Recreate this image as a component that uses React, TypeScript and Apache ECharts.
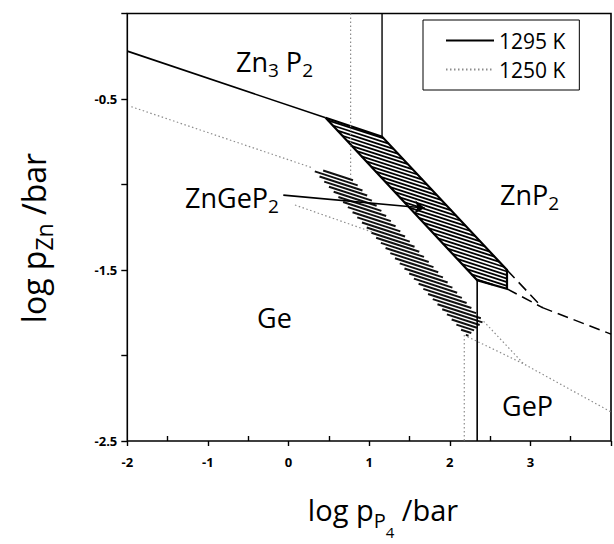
import React, { useEffect, useRef } from 'react';
import * as echarts from 'echarts';

// ---- axis ticks ----
const xTickLabels = [-2, -1, 0, 1, 2, 3];
const yTickLabels = [-0.5, -1.5, -2.5];

// ---- 1295 K ----
const line1295Zn3P2 = [[-2.0, -0.22], [0.46, -0.61]];
const band1295 = [[0.46, -0.61], [1.16, -0.72], [2.71, -1.5], [2.71, -1.61], [2.34, -1.56]];
const vert1295a = [[1.16, 0.0], [1.16, -0.72]];
const vert1295b = [[2.34, -1.56], [2.34, -2.5]];
const dash1295a = [[2.71, -1.5], [3.15, -1.72], [4.0, -1.875]];
const dash1295b = [[2.71, -1.61], [3.15, -1.72]];

// ---- 1250 K ----
const line1250Zn3P2 = [[-1.95, -0.545], [0.28, -0.9]];
const band1250 = [[0.28, -0.9], [0.77, -0.96], [2.42, -1.8], [2.22, -1.89]];
const vert1250a = [[0.77, 0.0], [0.77, -0.96]];
const vert1250b = [[2.18, -1.88], [2.18, -2.5]];
const dot1250a = [[2.42, -1.8], [2.92, -2.05], [4.0, -2.33]];
const dot1250b = [[2.22, -1.89], [2.92, -2.05]];

// ---- ZnGeP2 pointers ----
const pointer1295 = [[-0.065, -1.062], [1.69, -1.137]];
const pointer1250 = [[0.08, -1.12], [1.05, -1.28]];

const FONT = '"Open Sans", "DejaVu Sans", sans-serif';

function hatch(pts: number[][], angleDeg: number, spacing: number) {
  const a = (angleDeg * Math.PI) / 180;
  const d = [Math.cos(a), Math.sin(a)];
  const n = [-Math.sin(a), Math.cos(a)];
  const s = pts.map((p) => p[0] * n[0] + p[1] * n[1]);
  const smin = Math.min(...s);
  const smax = Math.max(...s);
  const segs: number[][][] = [];
  for (let v = smin + spacing / 2; v < smax; v += spacing) {
    const hits: number[][] = [];
    for (let i = 0; i < pts.length; i++) {
      const j = (i + 1) % pts.length;
      const si = s[i];
      const sj = s[j];
      if ((si - v) * (sj - v) < 0) {
        const t = (v - si) / (sj - si);
        hits.push([pts[i][0] + t * (pts[j][0] - pts[i][0]), pts[i][1] + t * (pts[j][1] - pts[i][1])]);
      }
    }
    hits.sort((p, q) => p[0] * d[0] + p[1] * d[1] - (q[0] * d[0] + q[1] * d[1]));
    for (let k = 0; k + 1 < hits.length; k += 2) segs.push([hits[k], hits[k + 1]]);
  }
  return segs;
}

function bandSeries(name: string, band: number[][], color: string, width: number, angle: number, spacing: number, outline: boolean) {
  return {
    type: 'custom',
    name,
    coordinateSystem: 'cartesian2d',
    xAxisIndex: 0,
    yAxisIndex: 0,
    silent: true,
    z: 1,
    data: [band[0]],
    renderItem: (_params: any, api: any) => {
      const pts = band.map((p) => api.coord(p));
      const children: any[] = hatch(pts, angle, spacing).map(([a, b]) => ({
        type: 'line',
        shape: { x1: a[0], y1: a[1], x2: b[0], y2: b[1] },
        style: { stroke: color, lineWidth: width },
      }));
      if (outline) {
        children.push({
          type: 'polygon',
          shape: { points: pts },
          style: { fill: 'none', stroke: '#000', lineWidth: 2.2, lineJoin: 'miter' },
        });
      }
      return { type: 'group', children };
    },
  };
}

function lineSeries(name: string, data: number[][], color: string, width: number, type: any) {
  return {
    type: 'line',
    name,
    xAxisIndex: 0,
    yAxisIndex: 0,
    data,
    symbol: 'none',
    silent: true,
    z: 3,
    color,
    itemStyle: { color },
    lineStyle: { color, width, type },
  };
}

const SOLID = '#000';
const GRAY = '#8c8c8c';
const DOT: number[] = [1.5, 2.5];

function regionText(text: string, x: number, y: number) {
  return {
    type: 'text',
    x,
    y,
    silent: true,
    style: {
      text,
      fill: '#000',
      fontSize: 27,
      fontFamily: FONT,
      lineHeight: 32,
      align: 'left',
      verticalAlign: 'middle',
      rich: {
        s: { fontSize: 19, fontFamily: FONT, fill: '#000', padding: [18, 0, 0, 0], lineHeight: 32 },
      },
    },
  };
}

export default function App() {
  const ref = useRef<HTMLDivElement>(null);
  useEffect(() => {
    if (!ref.current) return;
    const chart = echarts.init(ref.current, undefined, { renderer: 'svg' });
    const option: any = {
      animation: false,
      backgroundColor: '#fff',
      grid: {
        left: 127.3,
        top: 13.5,
        width: 489,
        height: 427.5,
        show: true,
        borderColor: '#000',
        borderWidth: 1.6,
        backgroundColor: 'transparent',
      },
      legend: {
        data: ['1295 K', '1250 K'],
        orient: 'vertical',
        left: 423,
        top: 20,
        padding: [6, 14, 6, 22],
        itemGap: 0,
        itemWidth: 48,
        itemHeight: 10,
        borderColor: '#000',
        borderWidth: 1,
        selectedMode: false,
        itemStyle: { opacity: 0 },
        textStyle: { fontSize: 21, fontFamily: FONT, color: '#000', lineHeight: 29 },
      },
      xAxis: [
        {
          type: 'value',
          position: 'bottom',
          min: -2,
          max: 4,
          interval: 1,
          axisLine: { show: false, onZero: false },
          axisTick: { show: true, inside: false, length: 5, lineStyle: { color: '#000', width: 1.4 } },
          splitLine: { show: false },
          axisLabel: {
            margin: 14,
            fontSize: 13,
            fontWeight: 'bold',
            fontFamily: FONT,
            color: '#000',
            formatter: (v: number) => (xTickLabels.some((t) => Math.abs(t - v) < 1e-6) ? String(v) : ''),
          },
        },
        {
          type: 'value',
          position: 'bottom',
          min: -2,
          max: 4,
          interval: 1,
          axisLine: { show: false, onZero: false },
          axisTick: { show: false, inside: true },
          minorTick: { show: true, splitNumber: 2, length: 5, lineStyle: { color: '#000', width: 1.4 } },
          splitLine: { show: false },
          minorSplitLine: { show: false },
          axisLabel: { show: false },
        },
      ],
      yAxis: [
        {
          type: 'value',
          min: -2.5,
          max: 0,
          interval: 0.5,
          axisLine: { show: false, onZero: false },
          axisTick: { show: true, inside: false, length: 6, lineStyle: { color: '#000', width: 1.4 } },
          splitLine: { show: false },
          axisLabel: {
            margin: 10,
            fontSize: 13,
            fontWeight: 'bold',
            fontFamily: FONT,
            color: '#000',
            padding: [5, 0, 0, 0],
            formatter: (v: number) => {
              const t = yTickLabels.find((q) => Math.abs(q - v) < 1e-6);
              return t === undefined ? '' : t.toFixed(1);
            },
          },
        },
      ],
      series: [
        bandSeries('1250 K band', band1250, '#111', 2.0, 18, 3.4, false),
        bandSeries('1295 K band', band1295, '#000', 1.8, 18, 3.4, true),
        lineSeries('1295 K', line1295Zn3P2, SOLID, 1.6, 'solid'),
        lineSeries('1295 K v1', vert1295a, SOLID, 1.4, 'solid'),
        lineSeries('1295 K v2', vert1295b, SOLID, 1.6, 'solid'),
        lineSeries('1295 K d1', dash1295a, SOLID, 1.5, [11, 6]),
        lineSeries('1295 K d2', dash1295b, SOLID, 1.5, [11, 6]),
        lineSeries('1250 K', line1250Zn3P2, GRAY, 1.2, DOT),
        lineSeries('1250 K v1', vert1250a, GRAY, 1.2, DOT),
        lineSeries('1250 K v2', vert1250b, GRAY, 1.2, DOT),
        lineSeries('1250 K d1', dot1250a, GRAY, 1.2, DOT),
        lineSeries('1250 K d2', dot1250b, GRAY, 1.2, DOT),
        lineSeries('1250 K pointer', pointer1250, GRAY, 1.2, DOT),
        {
          type: 'lines',
          name: '1295 K pointer',
          coordinateSystem: 'cartesian2d',
          xAxisIndex: 0,
          yAxisIndex: 0,
          silent: true,
          z: 4,
          symbol: ['none', 'arrow'],
          symbolSize: 10,
          lineStyle: { color: '#000', width: 1.6, opacity: 1, curveness: 0 },
          data: [{ coords: pointer1295 }],
        },
      ],
      graphic: [
        regionText('Zn{s|3} P{s|2}', 236, 61),
        regionText('ZnP{s|2}', 500, 194),
        regionText('ZnGeP{s|2}', 185, 197),
        regionText('Ge', 257, 317),
        regionText('GeP', 502, 405),
        {
          type: 'text',
          x: 383,
          y: 509,
          silent: true,
          style: {
            text: 'log p{a|P}{b|4} /bar',
            fill: '#000',
            fontSize: 29,
            fontFamily: FONT,
            lineHeight: 34,
            align: 'center',
            verticalAlign: 'middle',
            rich: {
              a: { fontSize: 20, fontFamily: FONT, fill: '#000', padding: [22, 0, 0, 0], lineHeight: 34 },
              b: { fontSize: 15, fontFamily: FONT, fill: '#000', padding: [46, 0, 0, 0], lineHeight: 34 },
            },
          },
        },
        {
          type: 'text',
          x: 33,
          y: 238,
          rotation: Math.PI / 2,
          silent: true,
          style: {
            text: 'log p{a|Zn} /bar',
            fill: '#000',
            fontSize: 32,
            fontFamily: FONT,
            lineHeight: 36,
            align: 'center',
            verticalAlign: 'middle',
            rich: {
              a: { fontSize: 23, fontFamily: FONT, fill: '#000', padding: [22, 0, 0, 0], lineHeight: 36 },
            },
          },
        },
      ],
    };
    chart.setOption(option);
    return () => chart.dispose();
  }, []);
  return <div ref={ref} style={{ position: 'fixed', left: 0, top: 0, width: 614, height: 544 }} />;
}
